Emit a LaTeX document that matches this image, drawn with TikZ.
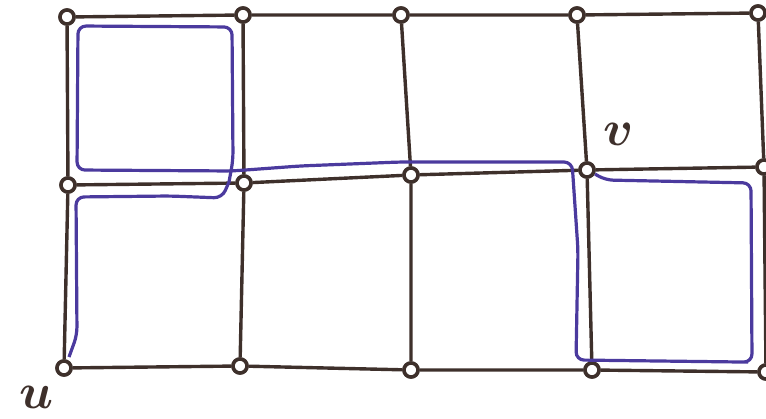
\documentclass[tikz,border=0pt]{standalone}
\usepackage{graphicx}
\begin{document}
\begin{tikzpicture}[x=1pt,y=-1pt,
  vert/.style={circle,draw=edgec,fill=white,line width=3.5pt,minimum size=14pt,inner sep=0pt},
  edge/.style={draw=edgec,line width=3.4pt},
  walk/.style={draw=walkc,line width=3.2pt,rounded corners=8pt},
  lab/.style={text=edgec,inner sep=0pt}]
\definecolor{edgec}{HTML}{3E302B}
\definecolor{walkc}{HTML}{4B3A9E}
\useasboundingbox (0,0) rectangle (766,419);
% vertices
\node[vert] (a1) at (67,17) {};
\node[vert] (a2) at (243,15) {};
\node[vert] (a3) at (401,15) {};
\node[vert] (a4) at (577,15) {};
\node[vert] (a5) at (758,13) {};
\node[vert] (b1) at (68,185) {};
\node[vert] (b2) at (244,183) {};
\node[vert] (b3) at (411,175) {};
\node[vert] (b4) at (587,170) {};
\node[vert] (b5) at (764,167) {};
\node[vert] (c1) at (64,368) {};
\node[vert] (c2) at (240,366) {};
\node[vert] (c3) at (411,370) {};
\node[vert] (c4) at (592,370) {};
\node[vert] (c5) at (766,372) {};
% edges
\draw[edge] (a1)--(a2) (a2)--(a3) (a3)--(a4) (a4)--(a5);
\draw[edge] (b1)--(b2) (b2)--(b3) (b3)--(b4) (b4)--(b5);
\draw[edge] (c1)--(c2) (c2)--(c3) (c3)--(c4) (c4)--(c5);
\draw[edge] (a1)--(b1) (b1)--(c1);
\draw[edge] (a2)--(b2) (b2)--(c2);
\draw[edge] (a3)--(b3) (b3)--(c3);
\draw[edge] (a4)--(b4) (b4)--(c4);
\draw[edge] (a5)--(b5) (b5)--(c5);
% redraw vertices on top
\foreach \n in {a1,a2,a3,a4,a5,b1,b2,b3,b4,b5,c1,c2,c3,c4,c5}
  \node[vert] at (\n) {};
% walk
\draw[walk] (69,357) -- (77,335) -- (76,197) -- (170,196) -- (222,198) [sharp corners] -- (229,182)
  [rounded corners=8pt] -- (233,160) -- (232,27) -- (78,26) -- (77,170) -- (232,171) -- (300,166)
  -- (400,162) -- (572,162) -- (578,250) -- (576,360) -- (740,362) -- (752,362) -- (751,183)
  -- (605,180) -- (595,174);
% labels
\node[lab] (u) at (37,397) {\scalebox{5}{\boldmath$u$}};
\node[lab] (v) at (619,134) {\scalebox{5}{\boldmath$v$}};
\end{tikzpicture}
\end{document}
